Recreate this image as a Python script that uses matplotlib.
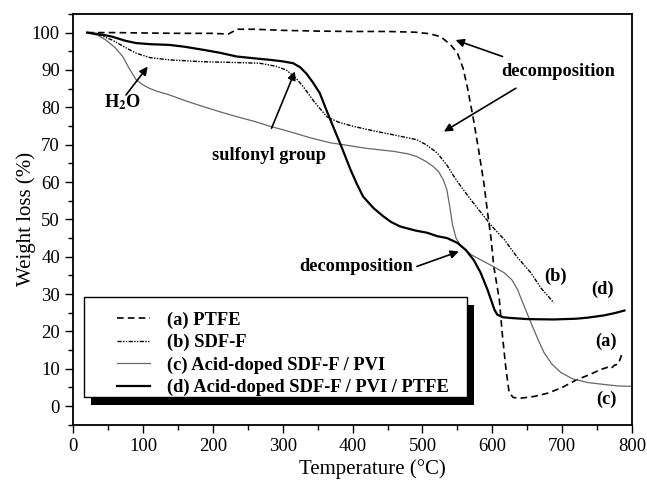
import matplotlib
matplotlib.use('Agg')
import matplotlib.pyplot as plt
import matplotlib.patches as mpatches
from matplotlib.ticker import MultipleLocator

plt.rcParams['font.family'] = 'Liberation Serif'
plt.rcParams['mathtext.fontset'] = 'stix'

# TGA curves
t_a = [20, 60, 100, 150, 200, 222, 235, 260, 300, 350, 400, 450, 490, 510, 526, 540, 550, 558, 564,
       573, 581, 588, 593, 598, 602, 610, 614, 619, 624, 630, 640, 660, 680, 700, 720, 740, 755, 765,
       770, 775, 780, 787]
w_a = [100, 100, 99.9, 99.8, 99.8, 99.6, 100.9, 100.9, 100.6, 100.4, 100.3, 100.3, 100.1, 99.7, 98.9,
       96.8, 94.5, 90.5, 85.6, 76.7, 67.8, 59.5, 52, 45, 37.4, 28.5, 19.7, 10.7, 3.6, 2.3, 2.1, 2.6,
       3.5, 5, 7, 8.5, 9.8, 10.4, 10.1, 11, 11.2, 14.7]

t_b = [20, 40, 56, 75, 90, 110, 138, 186, 230, 267, 290, 305, 318, 329, 345, 363, 380, 401, 430, 459,
       480, 492, 505, 521, 535, 545, 555, 569, 588, 600, 617, 635, 655, 670, 688]
w_b = [100, 99.2, 98, 96, 94.5, 93.3, 92.7, 92.2, 92, 91.8, 91, 90, 88, 85.6, 81.5, 77.5, 76, 74.9,
       73.7, 72.6, 71.8, 71.3, 70, 67.8, 64.5, 61.5, 58.8, 55.3, 50.8, 48, 44.6, 40, 35.7, 31.5, 27.7]

t_c = [20, 35, 47, 60, 71, 80, 90, 100, 109, 120, 138, 160, 186, 210, 234, 260, 282, 300, 315, 340,
       368, 386, 420, 459, 480, 492, 505, 515, 523, 530, 535, 539, 543, 548, 555, 570, 583, 600, 617,
       628, 636, 645, 655, 665, 674, 685, 698, 715, 737, 760, 780, 800]
w_c = [100, 99.3, 98, 96, 93.6, 90.5, 87.4, 86, 85.1, 84.3, 83.3, 81.8, 80.2, 78.8, 77.5, 76.2, 74.9,
       74, 73.2, 71.8, 70.5, 70, 69, 68.2, 67.5, 66.8, 65.5, 64.2, 62.8, 60.5, 57.8, 53.5, 48.5, 45,
       42.8, 40.5, 39.2, 37.5, 35.7, 33.8, 31.2, 27, 22.4, 18, 14.3, 11.3, 9, 7.3, 6.3, 5.8, 5.4, 5.3]

t_d = [20, 40, 56, 75, 90, 110, 138, 160, 186, 210, 234, 260, 282, 300, 315, 325, 334, 343, 353, 362,
       372, 385, 397, 406, 415, 430, 444, 455, 468, 490, 507, 521, 535, 550, 562, 573, 583, 593, 603,
       607, 615, 626, 650, 688, 720, 737, 760, 775, 789]
w_d = [100, 99.5, 98.9, 97.8, 97.2, 96.9, 96.7, 96.2, 95.4, 94.6, 93.6, 93.1, 92.7, 92.3, 91.8, 90.7,
       89, 86.7, 83.8, 79.5, 74.9, 69, 63.3, 59.5, 56.1, 53, 50.8, 49.3, 48.1, 47, 46.4, 45.5, 45,
       43.7, 41.8, 39.2, 35.8, 31.2, 25.8, 24.5, 23.8, 23.6, 23.3, 23.2, 23.4, 23.7, 24.3, 24.9, 25.6]

labels = ['(a) PTFE', '(b) SDF-F', '(c) Acid-doped SDF-F / PVI', '(d) Acid-doped SDF-F / PVI / PTFE']
curve_tags = ['(a)', '(b)', '(c)', '(d)']
tag_pos = [(763, 17.4), (691, 34.8), (763, 1.8), (758, 31.2)]

fig = plt.figure(figsize=(6.47, 4.8), dpi=100)
ax = fig.add_axes([0.113, 0.115, 0.864, 0.856])

la, = ax.plot(t_a, w_a, color='black', lw=1.2, ls=(0, (4, 2.5)))
lb, = ax.plot(t_b, w_b, color='black', lw=1.0, ls=(0, (3, 1, 1, 1, 1, 1)))
lc, = ax.plot(t_c, w_c, color='#666666', lw=0.9)
ld, = ax.plot(t_d, w_d, color='black', lw=1.6)

ax.set_xlim(0, 800)
ax.set_ylim(-5, 105)
ax.xaxis.set_major_locator(MultipleLocator(100))
ax.xaxis.set_minor_locator(MultipleLocator(50))
ax.set_yticks(range(0, 101, 10))
ax.yaxis.set_minor_locator(MultipleLocator(5))
ax.tick_params(which='both', direction='out', top=False, right=False, labelsize=13.5)
ax.tick_params(which='major', length=6, width=1)
ax.tick_params(which='minor', length=3.5, width=1)
for s in ax.spines.values():
    s.set_linewidth(1.3)

ax.set_xlabel('Temperature (°C)', fontsize=15)
ax.xaxis.set_label_coords(0.535, -0.083)
ax.set_ylabel('Weight loss (%)', fontsize=15, labelpad=-3)

# annotations
bold = dict(fontweight='bold', fontsize=13.2)
arrow = dict(arrowstyle='-|>', color='black', lw=1.2, mutation_scale=12, shrinkA=0, shrinkB=0)
ax.annotate('', xy=(106.8, 90.9), xytext=(75.7, 83.3), arrowprops=arrow)
ax.text(71, 81.3, r'H$_\mathbf{2}$O', ha='center', va='center', **bold)
ax.annotate('', xy=(317.5, 89.6), xytext=(284, 74.4), arrowprops=arrow)
ax.text(280, 67.2, 'sulfonyl group', ha='center', va='center', **bold)
ax.annotate('', xy=(547.4, 98), xytext=(614.5, 93.6), arrowprops=arrow)
ax.annotate('', xy=(530.6, 73.5), xytext=(633.6, 85.1), arrowprops=arrow)
ax.text(693.5, 89.6, 'decomposition', ha='center', va='center', **bold)
ax.annotate('', xy=(552, 41.4), xytext=(492, 37.4), arrowprops=arrow)
ax.text(405, 37.4, 'decomposition', ha='center', va='center', **bold)
for tag, (tx, ty) in zip(curve_tags, tag_pos):
    ax.text(tx, ty, tag, ha='center', va='center', **bold)

# legend with a solid black drop shadow
box = (0.0197, 0.068, 0.685, 0.243)
ax.add_patch(mpatches.Rectangle((box[0] + 0.0125, box[1] - 0.019), box[2], box[3],
                                transform=ax.transAxes, facecolor='black', edgecolor='none',
                                zorder=6, clip_on=False))
ax.add_patch(mpatches.Rectangle((box[0], box[1]), box[2], box[3], transform=ax.transAxes,
                                facecolor='white', edgecolor='black', lw=1.0, zorder=6.5,
                                clip_on=False))
leg = ax.legend([la, lb, lc, ld], labels, loc='center left', bbox_to_anchor=(0.0785, 0.173),
                frameon=False, prop=dict(family='Liberation Serif', weight='bold', size=13.3),
                handlelength=1.8, handletextpad=0.9, labelspacing=0.28, borderpad=0,
                borderaxespad=0)
leg.set_zorder(7)

fig.savefig('out.png', dpi=100)
